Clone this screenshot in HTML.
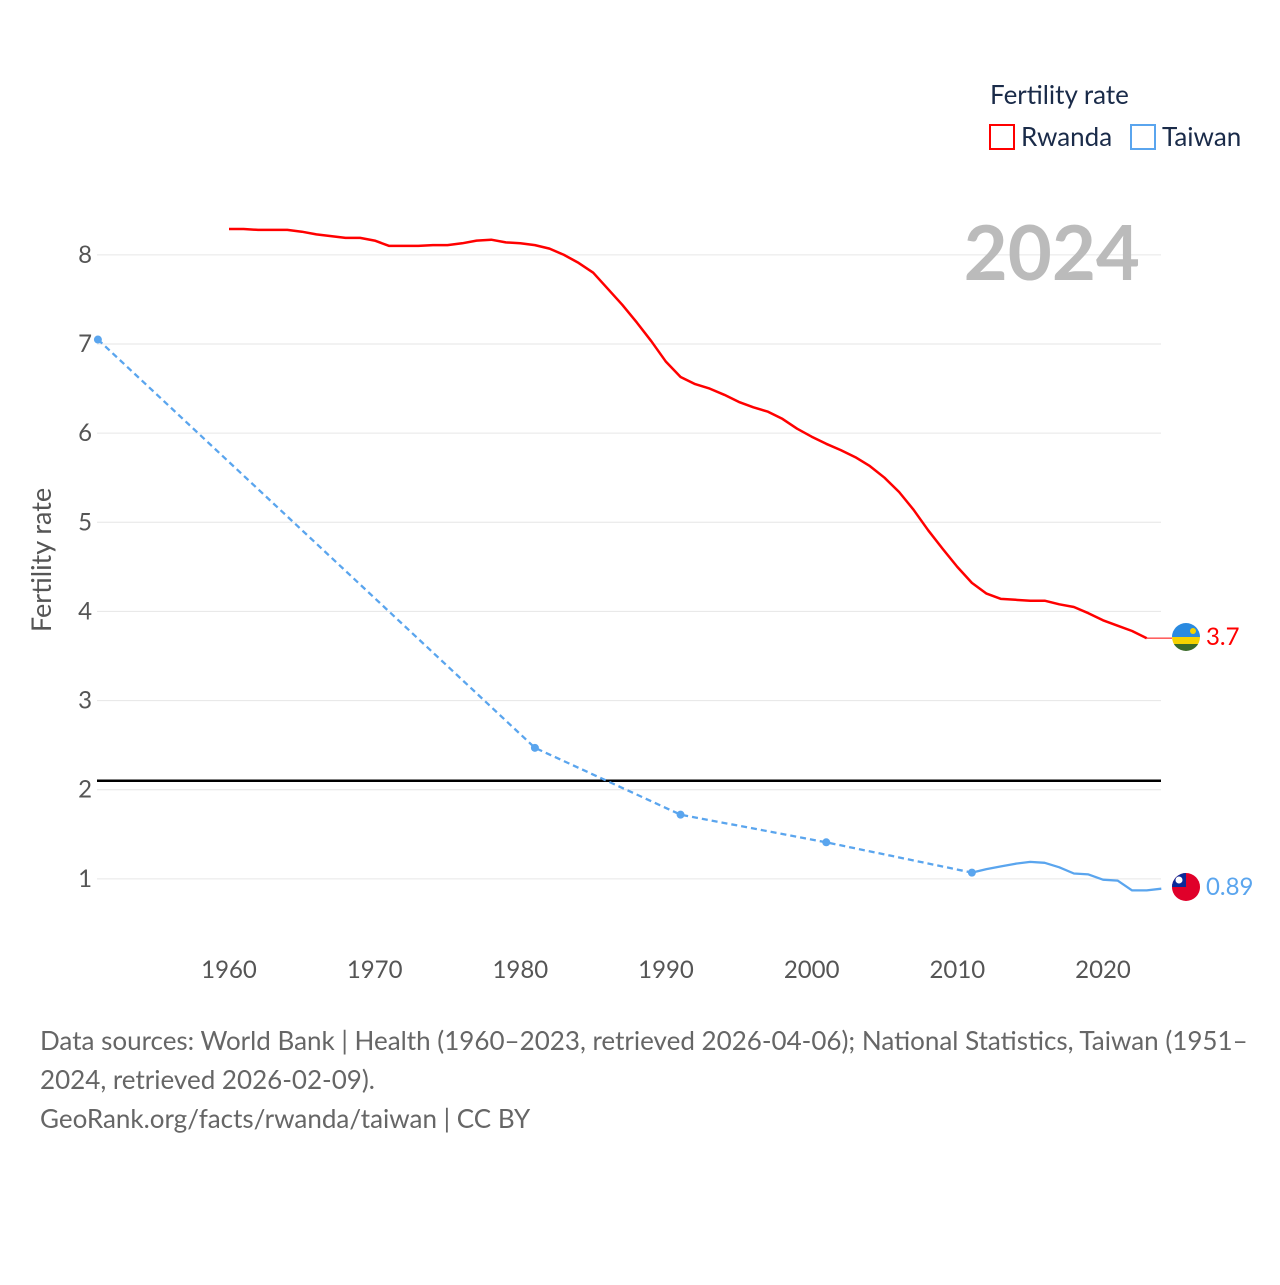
<!DOCTYPE html>
<html><head><meta charset="utf-8"><style>
body{margin:0;background:#fff;width:1280px;height:1280px;overflow:hidden;font-family:"Liberation Sans",sans-serif}
svg text{font-family:"Lato","Liberation Sans",sans-serif}
</style></head><body>
<svg id="chart" width="1280" height="1280" xmlns="http://www.w3.org/2000/svg">
<g id="grid"></g>
<g id="yticks"></g>
<g id="xticks"></g>
<text transform="translate(51,560) rotate(-90)" text-anchor="middle" font-size="27" fill="#555">Fertility rate</text>
<text x="1140" y="280" text-anchor="end" font-size="76" font-weight="bold" fill="#bbb">2024</text>
<g>
<text x="990" y="104" font-size="26" fill="#1a2b49">Fertility rate</text>
<rect x="990" y="125" width="24" height="24" fill="none" stroke="#f00" stroke-width="2"/>
<text x="1021" y="146" font-size="26" fill="#1a2b49">Rwanda</text>
<rect x="1131" y="125" width="24" height="24" fill="none" stroke="#5aa5ee" stroke-width="2"/>
<text x="1162" y="146" font-size="26" fill="#1a2b49">Taiwan</text>
</g>
<g id="series"></g>
<g>
<clipPath id="c1"><circle cx="1186" cy="637" r="14"/></clipPath>
<g clip-path="url(#c1)"><rect x="1172" y="623" width="28" height="14" fill="#2a8ae0"/><rect x="1172" y="637" width="28" height="7" fill="#f5d200"/><rect x="1172" y="644" width="28" height="7" fill="#3a6a2a"/><circle cx="1193" cy="631" r="3" fill="#f5d200"/></g>
</g>
<g>
<clipPath id="c2"><circle cx="1186" cy="887" r="14"/></clipPath>
<g clip-path="url(#c2)"><rect x="1172" y="873" width="28" height="28" fill="#e0002a"/><rect x="1172" y="873" width="14" height="14" fill="#0a2a9a"/><circle cx="1179" cy="880" r="3.5" fill="#fff"/></g>
</g>
<text id="lblR" x="1206" y="645" font-size="24" fill="#f00"></text>
<text id="lblT" x="1206" y="895" font-size="24" fill="#5aa5ee"></text>
<text font-size="26" fill="#666"><tspan x="40" y="1050">Data sources: World Bank | Health (1960–2023, retrieved 2026-04-06); National Statistics, Taiwan (1951–</tspan><tspan x="40" y="1089">2024, retrieved 2026-02-09).</tspan><tspan x="40" y="1128">GeoRank.org/facts/rwanda/taiwan | CC BY</tspan></text>
</svg>
<script>
const rwandaYears=[1960,1961,1962,1963,1964,1965,1966,1967,1968,1969,1970,1971,1972,1973,1974,1975,1976,1977,1978,1979,1980,1981,1982,1983,1984,1985,1986,1987,1988,1989,1990,1991,1992,1993,1994,1995,1996,1997,1998,1999,2000,2001,2002,2003,2004,2005,2006,2007,2008,2009,2010,2011,2012,2013,2014,2015,2016,2017,2018,2019,2020,2021,2022,2023];
const rwandaValues=[8.29,8.29,8.28,8.28,8.28,8.26,8.23,8.21,8.19,8.19,8.16,8.10,8.10,8.10,8.11,8.11,8.13,8.16,8.17,8.14,8.13,8.11,8.07,8.00,7.91,7.80,7.62,7.44,7.24,7.03,6.80,6.63,6.55,6.50,6.43,6.35,6.29,6.24,6.16,6.05,5.96,5.88,5.81,5.73,5.63,5.50,5.34,5.14,4.91,4.70,4.50,4.32,4.20,4.14,4.13,4.12,4.12,4.08,4.05,3.98,3.90,3.84,3.78,3.70];
const taiwanSparseYears=[1951,1981,1991,2001,2011];
const taiwanSparseValues=[7.05,2.47,1.72,1.41,1.07];
const taiwanYears=[2011,2012,2013,2014,2015,2016,2017,2018,2019,2020,2021,2022,2023,2024];
const taiwanValues=[1.07,1.11,1.14,1.17,1.19,1.18,1.13,1.06,1.05,0.99,0.98,0.87,0.87,0.89];
const yTicks=[1,2,3,4,5,6,7,8];
const xTicks=[1960,1970,1980,1990,2000,2010,2020];
const replacement=2.1;
const X=y=>229+(y-1960)*(874/60);
const Y=v=>968-v*(624/7);
const NS="http://www.w3.org/2000/svg";
function mk(tag,attrs,parent){const e=document.createElementNS(NS,tag);for(const k in attrs)e.setAttribute(k,attrs[k]);parent.appendChild(e);return e;}
const grid=document.getElementById('grid'),yt=document.getElementById('yticks'),xt=document.getElementById('xticks'),ser=document.getElementById('series');
yTicks.forEach(t=>{
 const l=mk('line',{x1:97,x2:1161,y1:Y(t),y2:Y(t),stroke:'#e6e6e6','stroke-width':1},grid);
 
 
 const tx=mk('text',{x:92,y:Y(t)+8,'text-anchor':'end','font-size':24,fill:'#555'},yt);tx.textContent=t;
 
 
});
xTicks.forEach(t=>{
 const tx=mk('text',{x:X(t),y:978,'text-anchor':'middle','font-size':24,fill:'#555'},xt);tx.textContent=t;
 
 
});
const rl=mk('line',{x1:97,x2:1161,y1:Y(replacement),y2:Y(replacement),stroke:'#000','stroke-width':2.5},ser);


const pts=(ys,vs)=>ys.map((y,i)=>X(y).toFixed(1)+','+Y(vs[i]).toFixed(1)).join(' ');
const rp=mk('polyline',{points:pts(rwandaYears,rwandaValues),fill:'none',stroke:'#f00','stroke-width':2.5,'stroke-linejoin':'round'},ser);


const last=rwandaValues[rwandaValues.length-1];
const rc=mk('line',{x1:X(rwandaYears[rwandaYears.length-1]),x2:1172,y1:Y(last),y2:Y(last),stroke:'#f00','stroke-width':1},ser);


const td=mk('polyline',{points:pts(taiwanSparseYears,taiwanSparseValues),fill:'none',stroke:'#5aa5ee','stroke-width':2.3,'stroke-dasharray':'6,4'},ser);


const ts=mk('polyline',{points:pts(taiwanYears,taiwanValues),fill:'none',stroke:'#5aa5ee','stroke-width':2.3,'stroke-linejoin':'round'},ser);


taiwanSparseYears.forEach((y,i)=>{
 const c=mk('circle',{cx:X(y),cy:Y(taiwanSparseValues[i]),r:4,fill:'#5aa5ee'},ser);
 
 
});
document.getElementById('lblR').textContent=last.toFixed(1).replace(/\.0$/,'');
document.getElementById('lblT').textContent=taiwanValues[taiwanValues.length-1].toFixed(2);
</script>
</body></html>
